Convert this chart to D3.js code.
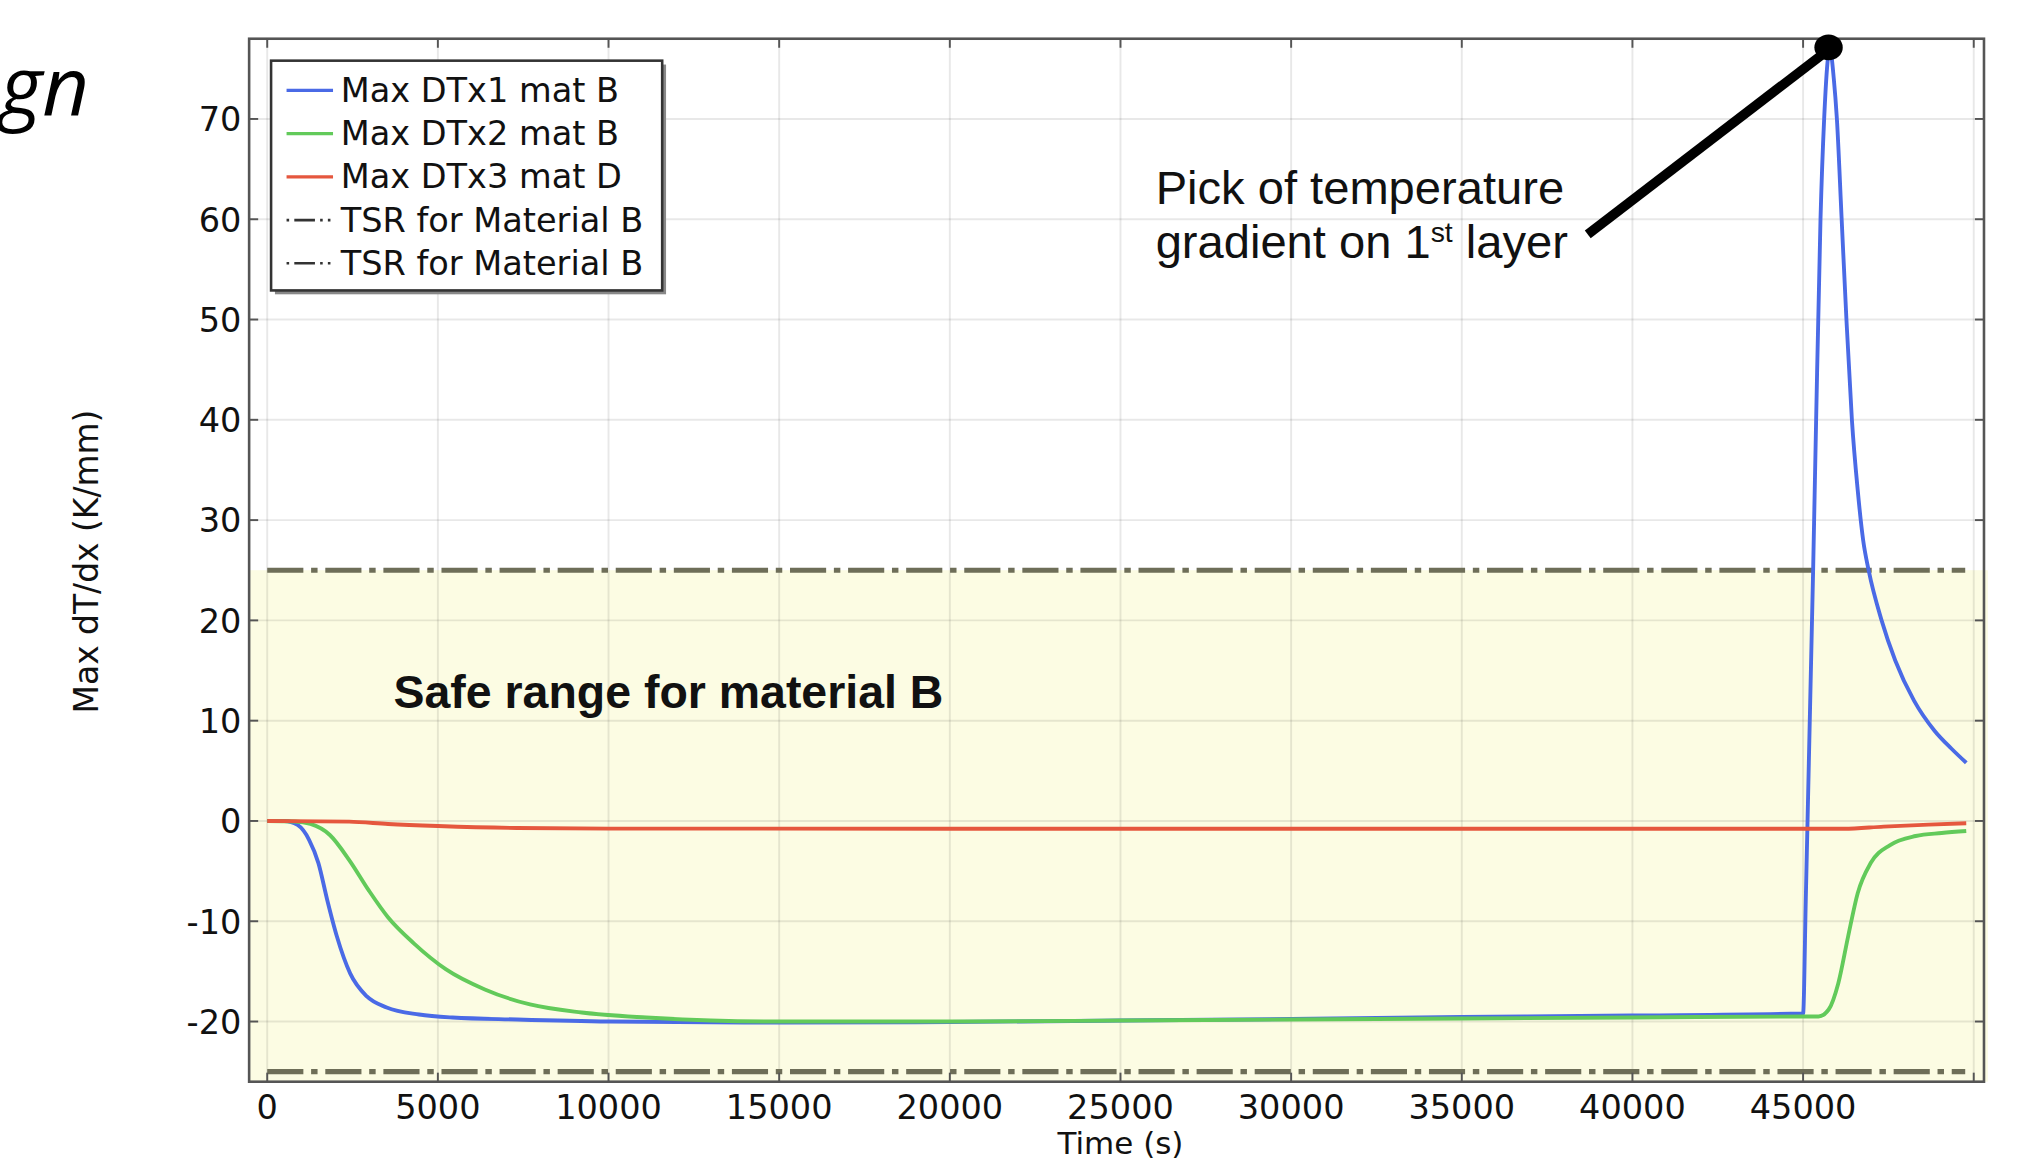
<!DOCTYPE html>
<html>
<head>
<meta charset="utf-8">
<script src="https://cdn.jsdelivr.net/npm/d3@7"></script>
<style>
  html, body { margin: 0; padding: 0; background: #fff; }
  svg { display: block; }
</style>
</head>
<body>
<div id="chart"></div>
<script>
// values (time in s, gradient in K/mm)
const dtx1Time = [0, 511, 889, 1230, 1500, 1760, 2040, 2430, 2920, 3500, 4450, 5430, 7322, 10028, 15000, 20000, 25000, 30000, 35000, 40000, 45000, 45078, 45294, 45382, 45510, 45617, 45784, 45900, 45990, 46130, 46270, 46430, 46600, 46760, 46920, 47300, 47700, 48250, 48850, 49350, 49780];
const dtx1Val  = [0, 0, -0.4, -1.9, -4.2, -7.9, -11.5, -15.2, -17.5, -18.6, -19.3, -19.6, -19.8, -20.0, -20.1, -20.05, -19.9, -19.75, -19.55, -19.4, -19.2, -8, 25, 40, 60, 70, 77, 74, 70, 60, 50, 40, 33, 28, 25, 20, 16, 12, 9, 7.2, 5.8];

const dtx2Time = [0, 800, 1268, 1835, 2403, 2970, 3538, 4295, 5241, 6376, 7700, 9214, 11106, 13000, 15000, 20000, 25000, 30000, 35000, 40000, 45000, 45450, 45750, 46030, 46320, 46600, 46980, 47550, 48300, 49060, 49780];
const dtx2Val  = [0, -0.05, -0.3, -1.4, -3.9, -6.9, -9.6, -12.2, -14.8, -16.8, -18.3, -19.1, -19.6, -19.9, -20.0, -20.0, -19.9, -19.8, -19.7, -19.6, -19.5, -19.5, -18.8, -16.2, -11.5, -7.2, -4.2, -2.4, -1.5, -1.2, -1.0];

const dtx3Time = [0, 2400, 3540, 5000, 7320, 10000, 20000, 30000, 40000, 46200, 47360, 48680, 49780];
const dtx3Val  = [0, -0.07, -0.3, -0.5, -0.7, -0.76, -0.78, -0.78, -0.78, -0.78, -0.56, -0.36, -0.23];

const tsrLimits = [25, -25];
const tsrSpan = [0, 49750];
const safeRange = [-26, 25];

const seriesNames = ["Max DTx1 mat B", "Max DTx2 mat B", "Max DTx3 mat D", "TSR for Material B", "TSR for Material B"];
const xTicks = [0, 5000, 10000, 15000, 20000, 25000, 30000, 35000, 40000, 45000];
const xGrid = [0, 5000, 10000, 15000, 20000, 25000, 30000, 35000, 40000, 45000, 50000];
const yTicks = [-20, -10, 0, 10, 20, 30, 40, 50, 60, 70];

const peakPoint = [45784, 77];
const pointerStart = [38690, 58.5];
const notePos = [26030, 61.5];
const safeLabelPos = [3700, 11.3];

// drawn on a 1568-wide canvas, scaled up to the window
const W = 1568, H = 1161 * 1568 / 2024;
const plot = { left: 193, right: 1537, top: 30, bottom: 838 };

const svg = d3.select("#chart")
    .append("svg")
    .attr("width", 2024)
    .attr("height", 1161)
    .attr("viewBox", `0 0 ${W} ${H}`);

const x = d3.scaleLinear().domain([-530, 50300]).range([plot.left, plot.right]);
const y = d3.scaleLinear().domain([-26, 78]).range([plot.bottom, plot.top]);

const font = "DejaVu Sans, sans-serif";
const arial = "Liberation Sans, Arial, sans-serif";
const colors = ["#4a6ae6", "#62ca5a", "#e5573e"];
const tsrColor = "#6e6e58";

svg.append("defs").append("clipPath").attr("id", "clip")
    .append("rect")
    .attr("x", plot.left).attr("y", plot.top)
    .attr("width", plot.right - plot.left).attr("height", plot.bottom - plot.top);

// safe range band
svg.append("rect")
    .attr("x", plot.left)
    .attr("y", y(safeRange[1]))
    .attr("width", plot.right - plot.left + 3)
    .attr("height", plot.bottom - y(safeRange[1]))
    .attr("fill", "#fcfce3");

// grid
const grid = svg.append("g").attr("stroke", "rgba(0,0,0,0.09)").attr("stroke-width", 1.5);
grid.selectAll(".gx").data(xGrid).enter().append("line")
    .attr("x1", d => x(d)).attr("x2", d => x(d))
    .attr("y1", plot.top).attr("y2", plot.bottom);
grid.selectAll(".gy").data(yTicks).enter().append("line")
    .attr("x1", plot.left).attr("x2", plot.right)
    .attr("y1", d => y(d)).attr("y2", d => y(d));

// TSR limits
svg.selectAll(".tsr")
    .data(tsrLimits)
    .enter()
    .append("line")
    .attr("x1", x(tsrSpan[0])).attr("x2", x(tsrSpan[1]))
    .attr("y1", d => y(d)).attr("y2", d => y(d))
    .attr("stroke", tsrColor)
    .attr("stroke-width", 4)
    .attr("stroke-dasharray", "28,6,5,6");

// curves, drawn in legend order
const line = d3.line()
    .x(d => x(d[0]))
    .y(d => y(d[1]))
    .curve(d3.curveMonotoneX);

const series = [
    d3.zip(dtx1Time, dtx1Val),
    d3.zip(dtx2Time, dtx2Val),
    d3.zip(dtx3Time, dtx3Val)
];

svg.append("g").attr("clip-path", "url(#clip)")
    .selectAll("path")
    .data(series)
    .enter()
    .append("path")
    .attr("d", d => line(d))
    .attr("fill", "none")
    .attr("stroke", (d, i) => colors[i])
    .attr("stroke-width", 3);

// frame and inside ticks
svg.append("rect")
    .attr("x", plot.left).attr("y", plot.top)
    .attr("width", plot.right - plot.left).attr("height", plot.bottom - plot.top)
    .attr("fill", "none").attr("stroke", "#555").attr("stroke-width", 2);

const ticks = svg.append("g").attr("stroke", "#555").attr("stroke-width", 1.5);
xGrid.forEach(d => {
    ticks.append("line").attr("x1", x(d)).attr("x2", x(d)).attr("y1", plot.bottom).attr("y2", plot.bottom - 7);
    ticks.append("line").attr("x1", x(d)).attr("x2", x(d)).attr("y1", plot.top).attr("y2", plot.top + 7);
});
yTicks.forEach(d => {
    ticks.append("line").attr("x1", plot.left).attr("x2", plot.left + 7).attr("y1", y(d)).attr("y2", y(d));
    ticks.append("line").attr("x1", plot.right).attr("x2", plot.right - 7).attr("y1", y(d)).attr("y2", y(d));
});

// tick labels
svg.selectAll(".xl").data(xTicks).enter().append("text")
    .attr("x", d => x(d)).attr("y", 867)
    .attr("text-anchor", "middle")
    .attr("font-family", font).attr("font-size", 26).attr("fill", "#111")
    .text(d => d);

svg.selectAll(".yl").data(yTicks).enter().append("text")
    .attr("x", 187).attr("y", d => y(d) + 9.5)
    .attr("text-anchor", "end")
    .attr("font-family", font).attr("font-size", 26).attr("fill", "#111")
    .text(d => d);

// axis titles
svg.append("text")
    .attr("x", x(25000)).attr("y", 894)
    .attr("text-anchor", "middle")
    .attr("font-family", font).attr("font-size", 24).attr("fill", "#111")
    .text("Time (s)");

svg.append("text")
    .attr("transform", "translate(76,435) rotate(-90)")
    .attr("text-anchor", "middle")
    .attr("font-family", font).attr("font-size", 25.5).attr("fill", "#111")
    .text("Max dT/dx (K/mm)");

// legend
const lg = svg.append("g").attr("transform", "translate(210,47)");
lg.append("rect").attr("x", 3).attr("y", 3).attr("width", 303).attr("height", 178).attr("fill", "#888");
lg.append("rect").attr("width", 303).attr("height", 178).attr("fill", "#fff").attr("stroke", "#333").attr("stroke-width", 2);
seriesNames.forEach((name, i) => {
    const yy = 23 + i * 33.5;
    lg.append("line")
        .attr("x1", 12).attr("x2", 48).attr("y1", yy).attr("y2", yy)
        .attr("stroke", i < 3 ? colors[i] : "#333")
        .attr("stroke-width", i < 3 ? 2.5 : 2)
        .attr("stroke-dasharray", i < 3 ? null : "2,4,16,4,2,4");
    lg.append("text")
        .attr("x", 54).attr("y", yy + 9)
        .attr("font-family", font).attr("font-size", 26).attr("fill", "#111")
        .text(name);
});

// safe range label
svg.append("text")
    .attr("x", x(safeLabelPos[0])).attr("y", y(safeLabelPos[1]))
    .attr("font-family", arial)
    .attr("font-weight", "bold").attr("font-size", 36).attr("fill", "#111")
    .text("Safe range for material B");

// peak annotation
svg.append("line")
    .attr("x1", x(pointerStart[0])).attr("y1", y(pointerStart[1]))
    .attr("x2", x(peakPoint[0])).attr("y2", y(peakPoint[1]))
    .attr("stroke", "#000").attr("stroke-width", 7.5);
svg.append("ellipse")
    .attr("cx", x(peakPoint[0]) - 1).attr("cy", y(peakPoint[1]) - 1)
    .attr("rx", 11).attr("ry", 10).attr("fill", "#000");

const note = svg.append("text")
    .attr("font-family", arial)
    .attr("font-size", 36.5).attr("fill", "#111");
note.append("tspan").attr("x", x(notePos[0])).attr("y", y(notePos[1])).text("Pick of temperature");
note.append("tspan").attr("x", x(notePos[0])).attr("y", y(notePos[1]) + 42).text("gradient on 1");
note.append("tspan").attr("dy", -13).attr("font-size", 22).text("st");
note.append("tspan").attr("dy", 13).text(" layer");

// cropped slide title
svg.append("text")
    .attr("x", 69).attr("y", 89)
    .attr("text-anchor", "end")
    .attr("font-family", "Open Sans, sans-serif")
    .attr("font-style", "italic").attr("font-size", 63).attr("fill", "#000")
    .text("gn");
</script>
</body>
</html>
